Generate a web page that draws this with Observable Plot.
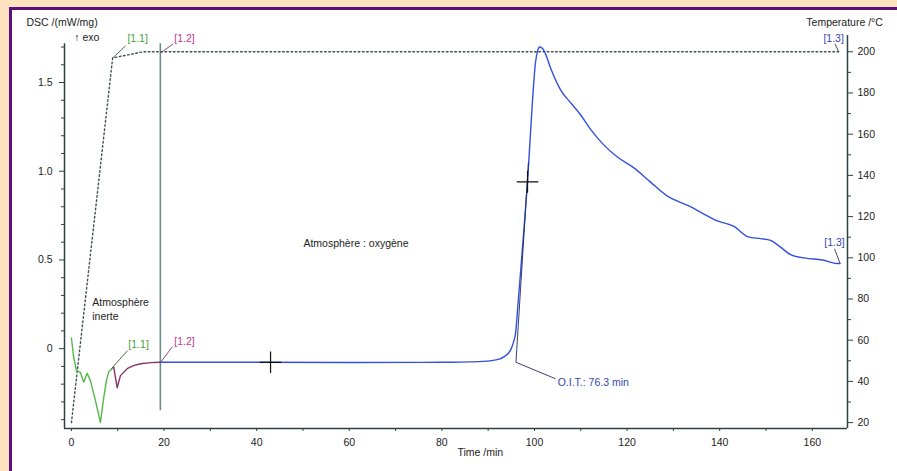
<!DOCTYPE html>
<html><head><meta charset="utf-8">
<script src="https://cdn.jsdelivr.net/npm/d3@7"></script>
<script src="https://cdn.jsdelivr.net/npm/@observablehq/plot@0.6"></script>
<style>
html,body{margin:0;padding:0}
body{background:#fde2bf;width:897px;height:471px;overflow:hidden;position:relative;font-family:"Liberation Sans",Arial,sans-serif}
#frame{position:absolute;left:9px;top:7px;width:900px;height:480px;background:#fff;border-left:3px solid #5c0f7c;border-top:3px solid #5c0f7c}
#chart{position:absolute;left:0;top:0}
</style></head><body><div id="frame"></div><div id="chart"></div>
<script>
// Temperature program (°C) vs time (min)
const tempTime = [0, 8.9, 15.5, 165.7];
const tempC = [20, 197, 200, 200];

// DSC segment [1.1] – inert atmosphere heating
const inertTime = [0, 0.43, 1.08, 1.94, 2.66, 3.39, 4.1, 5.18, 6.26, 6.98, 7.56, 8.06, 9.14];
const inertDSC = [0.06, -0.04, -0.124, -0.134, -0.19, -0.139, -0.18, -0.293, -0.415, -0.274, -0.18, -0.13, -0.105];

// DSC segment [1.2] – isotherm, inert
const isoTime = [9.14, 9.87, 10.58, 12.03, 13.4, 14.9, 17.1, 19.2];
const isoDSC = [-0.105, -0.22, -0.152, -0.113, -0.096, -0.085, -0.079, -0.077];

// DSC segment [1.3] – oxygen
const oxyTime = [19.2, 40, 60, 80, 88, 91, 92.7, 94, 94.8, 95.5, 95.9, 96.5, 97.5, 98.5, 99.6, 100.2, 100.7, 101.1, 101.8, 102.4, 103.5, 105.6, 108, 109.9, 112, 114.9, 117.9, 121.4, 125, 128.7, 131, 133.7, 136.5, 139.5, 143, 146.2, 148.8, 151, 153, 155.3, 158.5, 162.2, 165.4, 166];
const oxyDSC = [-0.077, -0.077, -0.078, -0.077, -0.073, -0.066, -0.056, -0.035, -0.01, 0.04, 0.085, 0.27, 0.6, 0.94, 1.41, 1.61, 1.68, 1.70, 1.69, 1.66, 1.58, 1.46, 1.38, 1.32, 1.24, 1.15, 1.08, 1.02, 0.94, 0.86, 0.83, 0.80, 0.76, 0.72, 0.69, 0.63, 0.62, 0.61, 0.575, 0.53, 0.51, 0.50, 0.48, 0.48];

// Tick values
const xMajor = [0, 20, 40, 60, 80, 100, 120, 140, 160];
const xMinor = [10, 30, 50, 70, 90, 110, 130, 150];
const yMajor = [0, 0.5, 1.0, 1.5];
const yMinor = [-0.4, -0.3, -0.2, -0.1, 0.1, 0.2, 0.3, 0.4, 0.6, 0.7, 0.8, 0.9, 1.1, 1.2, 1.3, 1.4, 1.6, 1.7];
const tMajor = [20, 40, 60, 80, 100, 120, 140, 160, 180, 200];
const tMinor = [30, 50, 70, 90, 110, 130, 150, 170, 190];

// Markers / annotations
const crossTime = [43, 98.5];
const crossDSC = [-0.077, 0.94];
const oitText = "O.I.T.: 76.3 min";

// map temperature onto the DSC axis (right axis is secondary)
const T0 = 20, D0 = -0.4168, K = 0.011612;
const tempToDSC = T => D0 + (T - T0) * K;
const dscToTemp = d => Math.round((d - D0) / K + T0);

const temp = tempTime.map((t, i) => ({t, T: tempC[i]}));
const seg1 = inertTime.map((t, i) => ({t, v: inertDSC[i]}));
const seg2 = isoTime.map((t, i) => ({t, v: isoDSC[i]}));
const seg3 = oxyTime.map((t, i) => ({t, v: oxyDSC[i]}));
const crosses = crossTime.map((t, i) => ({t, v: crossDSC[i]}));

const green = "#3f9f3a", greenLine = "#55b848", magenta = "#c2368f", purpleLine = "#8a3468", blue = "#3350dd", blueText = "#3346b0";
const axisCol = "#2c4242", txt = "#222";
const X0 = -1.5, X1 = 167.6, Y0 = -0.45, Y1 = 1.765;

const fs = 10.5;
const chart = Plot.plot({
  width: 897, height: 471,
  marginLeft: 64, marginRight: 50, marginTop: 35, marginBottom: 43,
  x: {domain: [X0, X1]},
  y: {domain: [Y0, Y1]},
  style: {background: "transparent", fontFamily: "'Liberation Sans', Arial, sans-serif", fontSize: fs + "px", overflow: "visible"},
  marks: [
    // frame lines
    Plot.ruleY([Y0], {x1: X0, x2: X1, stroke: axisCol, strokeWidth: 1.5}),
    Plot.ruleX([X0], {y1: Y0, y2: 1.718, stroke: axisCol, strokeWidth: 1.5}),
    Plot.ruleX([X1], {y1: Y0, y2: Y1, stroke: axisCol, strokeWidth: 1.5}),
    // axes
    Plot.axisX({ticks: xMajor, tickSize: 3, tickPadding: 7, color: axisCol, fill: txt, label: null, tickFormat: d => String(d)}),
    Plot.axisX({ticks: xMinor, tickSize: 3, text: null, color: axisCol, label: null}),
    Plot.axisY({ticks: yMajor, anchor: "left", tickSize: 5, tickPadding: 7, color: axisCol, fill: txt, label: null, tickFormat: d => d === 0 ? "0" : d.toFixed(1)}),
    Plot.axisY({ticks: yMinor, anchor: "left", tickSize: 3, text: null, color: axisCol, label: null}),
    Plot.axisY({ticks: tMajor.map(tempToDSC), anchor: "right", tickSize: 5, tickPadding: 5, color: axisCol, fill: txt, label: null, tickFormat: d => String(dscToTemp(d))}),
    Plot.axisY({ticks: tMinor.map(tempToDSC), anchor: "right", tickSize: 3, text: null, color: axisCol, label: null}),
    // segment boundary line
    Plot.ruleX([19.2], {y1: -0.35, y2: 1.718, stroke: "#6c8c8c", strokeWidth: 1.6}),
    // temperature program
    Plot.line(temp, {x: "t", y: d => tempToDSC(d.T), stroke: "#3c5252", strokeWidth: 1.4, strokeDasharray: "1.6,2.6"}),
    // DSC segments
    Plot.line(seg1, {x: "t", y: "v", stroke: greenLine, strokeWidth: 1.4}),
    Plot.line(seg2, {x: "t", y: "v", stroke: purpleLine, strokeWidth: 1.4}),
    Plot.line(seg3, {x: "t", y: "v", stroke: blue, strokeWidth: 1.4, curve: "monotone-x"}),
    // onset tangent
    Plot.link([{x1: 96.0, y1: -0.077, x2: 98.7, y2: 1.05}], {x1: "x1", y1: "y1", x2: "x2", y2: "y2", stroke: "#1e2a60", strokeWidth: 0.9}),
    Plot.link([{x1: 96.0, y1: -0.077, x2: 104.5, y2: -0.169}], {x1: "x1", y1: "y1", x2: "x2", y2: "y2", stroke: "#1e2a60", strokeWidth: 0.9}),
    Plot.text([oitText], {x: 105.0, y: -0.19, text: d => d, textAnchor: "start", fill: blueText, fontSize: fs}),
    // crosses
    Plot.dot(crosses, {x: "t", y: "v", symbol: "plus", r: 7, stroke: "#111", strokeWidth: 1.2}),
    // segment labels and leaders
    Plot.link([{x1: 8.9, y1: 1.638, x2: 11.7, y2: 1.707}], {x1: "x1", y1: "y1", x2: "x2", y2: "y2", stroke: "#3c5a3c", strokeWidth: 0.9}),
    Plot.text(["[1.1]"], {x: 14.3, y: 1.746, text: d => d, fill: green, fontSize: fs}),
    Plot.link([{x1: 19.2, y1: 1.667, x2: 22.0, y2: 1.718}], {x1: "x1", y1: "y1", x2: "x2", y2: "y2", stroke: "#7a3a6a", strokeWidth: 0.9}),
    Plot.text(["[1.2]"], {x: 24.4, y: 1.746, text: d => d, fill: magenta, fontSize: fs}),
    Plot.link([{x1: 8.64, y1: -0.113, x2: 12.1, y2: -0.011}], {x1: "x1", y1: "y1", x2: "x2", y2: "y2", stroke: "#3c5a3c", strokeWidth: 0.9}),
    Plot.text(["[1.1]"], {x: 14.5, y: 0.023, text: d => d, fill: green, fontSize: fs}),
    Plot.link([{x1: 19.2, y1: -0.079, x2: 21.8, y2: 0.011}], {x1: "x1", y1: "y1", x2: "x2", y2: "y2", stroke: "#7a3a6a", strokeWidth: 0.9}),
    Plot.text(["[1.2]"], {x: 24.4, y: 0.04, text: d => d, fill: magenta, fontSize: fs}),
    Plot.link([{x1: 165.7, y1: tempToDSC(200), x2: 164.9, y2: 1.718}], {x1: "x1", y1: "y1", x2: "x2", y2: "y2", stroke: "#334", strokeWidth: 0.9}),
    Plot.text(["[1.3]"], {x: 164.6, y: 1.749, text: d => d, fill: blueText, fontSize: fs}),
    Plot.link([{x1: 166.0, y1: 0.48, x2: 164.8, y2: 0.563}], {x1: "x1", y1: "y1", x2: "x2", y2: "y2", stroke: "#334", strokeWidth: 0.9}),
    Plot.text(["[1.3]"], {x: 164.8, y: 0.597, text: d => d, fill: blueText, fontSize: fs}),
    // atmosphere annotations
    Plot.text(["Atmosphère"], {x: 4.5, y: 0.259, text: d => d, textAnchor: "start", fill: txt, fontSize: fs}),
    Plot.text(["inerte"], {x: 4.5, y: 0.18, text: d => d, textAnchor: "start", fill: txt, fontSize: fs}),
    Plot.text(["Atmosphère : oxygène"], {x: 50.1, y: 0.59, text: d => d, textAnchor: "start", fill: txt, fontSize: fs}),
    // axis titles
    Plot.text(["Time /min"], {x: 88.3, y: Y0, dy: 24, text: d => d, fill: txt, fontSize: fs}),
    Plot.text(["DSC /(mW/mg)"], {x: -9.7, y: 1.837, text: d => d, textAnchor: "start", fill: txt, fontSize: fs}),
    Plot.text(["↑ exo"], {x: 0.6, y: 1.752, text: d => d, textAnchor: "start", fill: txt, fontSize: fs}),
    Plot.text(["Temperature /°C"], {x: 158.7, y: 1.837, text: d => d, textAnchor: "start", fill: txt, fontSize: fs})
  ]
});
document.getElementById("chart").appendChild(chart);
</script></body></html>
